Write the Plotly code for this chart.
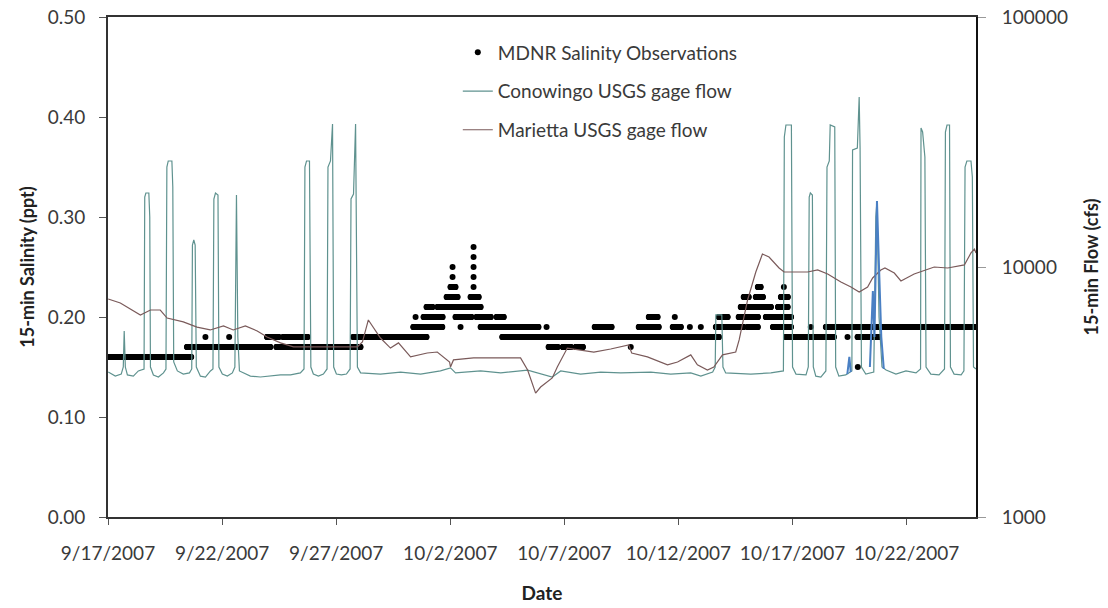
import numpy as np
import pandas as pd
import plotly.graph_objects as go

T0 = pd.Timestamp("2007-09-17 00:00")

# ---- MDNR salinity observations (15-min), stored as runs of constant reading ----
sal_level = [0.16, 0.17, 0.18, 0.18, 0.18, 0.18, 0.18, 0.17, 0.17, 0.18,
             0.19, 0.19, 0.19, 0.19, 0.19, 0.19,
             0.20, 0.20, 0.20, 0.20, 0.20,
             0.21, 0.21, 0.21, 0.22, 0.22, 0.23, 0.23,
             0.24, 0.24, 0.25, 0.25, 0.26, 0.27,
             0.18, 0.18, 0.18, 0.18,
             0.17, 0.17, 0.17, 0.17,
             0.19, 0.19, 0.19, 0.19, 0.19, 0.19, 0.19, 0.19, 0.19, 0.19,
             0.20, 0.20, 0.20, 0.20, 0.20,
             0.21, 0.21, 0.22, 0.22, 0.22, 0.23, 0.23,
             0.18, 0.18, 0.18, 0.15]
sal_start = [0.00, 3.46, 4.27, 5.31, 6.97, 7.68, 8.11, 7.38, 8.40, 10.75,
             13.38, 15.45, 16.33, 17.56, 17.99, 19.22,
             13.48, 13.83, 15.23, 16.15, 17.03,
             13.96, 14.44, 14.84, 14.84, 15.89, 15.01, 16.02,
             15.10, 16.02, 15.10, 16.02, 16.02, 16.02,
             17.28, 19.53, 21.81, 23.92,
             19.31, 19.93, 20.50, 22.91,
             21.33, 23.26, 24.75, 25.50, 25.98, 26.64, 28.04, 29.14, 30.80, 31.46,
             23.70, 24.84, 26.77, 27.64, 28.83,
             27.73, 29.36, 27.86, 28.39, 29.49, 28.48, 29.62,
             29.71, 32.41, 32.85, 32.86]
sal_end = [3.65, 7.12, 4.27, 5.31, 7.48, 8.00, 8.75, 8.29, 11.07, 13.96,
           14.65, 15.45, 17.43, 17.86, 18.87, 19.22,
           13.48, 14.66, 15.93, 16.77, 17.34,
           14.22, 14.71, 16.33, 15.32, 16.24, 15.23, 16.02,
           15.10, 16.02, 15.10, 16.02, 16.02, 16.02,
           19.40, 21.72, 23.79, 26.77,
           19.71, 20.28, 20.81, 22.91,
           22.07, 24.13, 25.10, 25.50, 25.98, 27.86, 28.48, 29.93, 30.80, 38.04,
           24.09, 24.84, 27.16, 28.48, 29.93,
           29.05, 29.79, 28.08, 28.70, 29.79, 28.61, 29.62,
           31.81, 32.41, 33.79, 32.86]

# ---- Conowingo USGS gage flow (cfs) ----
cono_day = [0.01, 0.32, 0.58, 0.67, 0.71, 0.76, 0.85, 1.11, 1.33, 1.58, 1.61, 1.66, 1.79, 1.83, 1.86,
            1.99, 2.21, 2.43, 2.54, 2.58, 2.64, 2.80, 2.84, 2.88, 3.04, 3.30, 3.57, 3.67, 3.70,
            3.76, 3.82, 3.87, 4.05, 4.27, 4.49, 4.60, 4.64, 4.71, 4.82, 4.86, 5.01, 5.23, 5.45,
            5.56, 5.63, 5.69, 5.76, 6.24, 6.68, 7.12, 7.56, 8.00, 8.43, 8.59, 8.63, 8.70, 8.83,
            8.89, 9.00, 9.22, 9.44, 9.60, 9.64, 9.75, 9.84, 9.89, 10.01, 10.23, 10.45, 10.61,
            10.65, 10.76, 10.85, 10.93, 11.07, 11.94, 12.82, 13.70, 14.57, 15.01, 15.23, 16.33,
            17.21, 18.39, 19.47, 19.84, 20.71, 21.59, 22.47, 23.79, 24.66, 25.54, 25.98, 26.50,
            26.61, 26.64, 26.90, 26.95, 27.07, 28.17, 29.05, 29.60, 29.64, 29.71, 29.95, 30.00,
            30.15, 30.59, 30.69, 30.73, 30.78, 30.87, 30.91, 31.02, 31.24, 31.46, 31.51, 31.61,
            31.65, 31.85, 31.89, 32.03, 32.33, 32.60, 32.63, 32.84, 32.92, 32.96, 33.02, 33.21,
            33.56, 33.65, 33.70, 33.79, 33.92, 34.10, 34.53, 34.97, 35.41, 35.61, 35.63, 35.70,
            35.80, 35.85, 36.06, 36.42, 36.66, 36.70, 36.77, 36.88, 36.92, 37.08, 37.39, 37.51,
            37.56, 37.64, 37.82, 37.88, 37.93, 38.04]
cono_flow = [3800, 3660, 3730, 3980, 5550, 3980, 3700, 3660, 3840, 3910, 19060, 19770, 19770, 15850, 3980,
             3700, 3630, 3770, 3910, 25120, 26550, 26550, 20890, 4170, 3840, 3730, 3770, 3910, 12250,
             12820, 12250, 3980, 3660, 3630, 3840, 3910, 18710, 19770, 19410, 3980, 3730, 3660, 3770,
             3980, 19410, 5250, 3840, 3660, 3630, 3660, 3700, 3700, 3770, 3910, 25120, 26550, 26550,
             3980, 3730, 3660, 3730, 3910, 25120, 26550, 37330, 3980, 3730, 3700, 3730, 3910,
             18710, 19590, 37330, 3980, 3770, 3730, 3800, 3730, 3840, 3950, 3770, 3840,
             3770, 3870, 3630, 3840, 3730, 3800, 3770, 3800, 3730, 3770, 3660, 3800,
             3980, 6430, 6430, 3980, 3770, 3730, 3770, 3840, 33110, 36980, 36980, 3980,
             3730, 3700, 3980, 19060, 19770, 19410, 3980, 3660, 3630, 3840, 25120, 26550,
             36980, 36310, 3980, 3660, 3700, 3840, 29380, 29920, 47860, 29920, 3980, 3730,
             3800, 15850, 18370, 6310, 3980, 3870, 3730, 3840, 3770, 3910, 35980, 34670,
             27540, 3980, 3730, 3700, 3910, 34670, 36980, 36980, 3980, 3730, 3700, 3840,
             25120, 26550, 26550, 22910, 3980, 3910]

# ---- Marietta USGS gage flow (cfs) ----
mari_day = [0.01, 0.54, 1.42, 1.86, 2.29, 2.59, 3.30, 3.90, 4.48, 5.06, 5.49, 6.02, 6.54, 6.97,
            7.56, 8.13, 9.75, 10.93, 11.15, 11.41, 11.94, 12.38, 12.73, 13.26, 13.99, 14.43,
            14.97, 15.01, 15.14, 16.02, 18.08, 18.39, 18.74, 18.96, 19.47, 19.69, 20.13, 20.71,
            21.29, 22.03, 22.82, 22.95, 23.64, 24.52, 24.96, 25.54, 25.83, 26.27, 26.55, 26.93,
            27.51, 27.66, 28.03, 28.39, 28.68, 28.97, 29.41, 29.63, 30.66, 31.10, 31.54, 32.12,
            32.56, 32.92, 33.29, 33.51, 33.87, 34.05, 34.46, 34.75, 35.33, 36.21, 36.80, 37.53,
            37.82, 37.97, 38.04]
mari_flow = [7450, 7180, 6430, 6730, 6730, 6250, 6030, 5750, 5600, 5810, 5600, 5810, 5550, 5250,
             4970, 4790, 4790, 4790, 5010, 6140, 5200, 4740, 4970, 4370, 4530, 4570,
             4170, 3980, 4250, 4330, 4330, 3870, 3130, 3310, 3600, 3980, 4740, 4660,
             4570, 4700, 4880, 4530, 4370, 4060, 4170, 4450, 4060, 3870, 3980, 4450,
             4570, 5110, 7380, 9550, 11270, 10960, 9910, 9550, 9550, 9730, 9380, 8710,
             8320, 7940, 8320, 9040, 9730, 9910, 9460, 8790, 9380, 10000, 9910, 10190,
             11380, 11800, 11380]

# ---- provisional Conowingo segment drawn in blue (no legend entry) ----
blue_day = [32.40, 32.49, 32.55, None, 33.39, 33.52, 33.59, 33.70, 33.79, 33.89, 34.00]
blue_flow = [3730, 4370, 3800, None, 3980, 8020, 5250, 18370, 10000, 5250, 3910]


def to_time(days):
    return [None if d is None else T0 + pd.Timedelta(days=d) for d in days]


# expand the constant-reading runs into the 15-minute observation times
sx, sy = [], []
for lv, a, b in zip(sal_level, sal_start, sal_end):
    n = int(round((b - a) * 96)) + 1
    for k in range(n):
        sx.append(a + k / 96.0)
        sy.append(lv)

FONT = "Lato"
TXT = "#3a3a3a"

fig = go.Figure()
fig.add_trace(go.Scatter(
    x=to_time(sx), y=sy, mode="markers", name="MDNR Salinity Observations",
    marker=dict(color="black", size=6), legendgroup="a", yaxis="y"))
fig.add_trace(go.Scatter(
    x=to_time(cono_day), y=cono_flow, mode="lines", name="Conowingo USGS gage flow",
    line=dict(color="#5f928f", width=1.2), legendgroup="b", yaxis="y2"))
fig.add_trace(go.Scatter(
    x=to_time(mari_day), y=mari_flow, mode="lines", name="Marietta USGS gage flow",
    line=dict(color="#7a5a5a", width=1.2), legendgroup="c", yaxis="y2"))
fig.add_trace(go.Scatter(
    x=to_time(blue_day), y=blue_flow, mode="lines", showlegend=False,
    line=dict(color="#4a80c4", width=2), yaxis="y2", connectgaps=False))

fig.update_layout(
    width=1108, height=608,
    margin=dict(l=108, r=132, t=17, b=91),
    paper_bgcolor="white", plot_bgcolor="white",
    font=dict(family=FONT, size=19, color=TXT),
    showlegend=True,
    legend=dict(x=0.403, y=0.967, xanchor="left", yanchor="top",
                bgcolor="rgba(0,0,0,0)", tracegroupgap=11,
                font=dict(family=FONT, size=19, color=TXT)),
    xaxis=dict(
        type="date", automargin=False,
        range=[T0, T0 + pd.Timedelta(days=38.04)],
        tick0=T0, dtick=5 * 86400000, tickformat="%-m/%-d/%Y",
        showgrid=False, zeroline=False,
        showline=True, linecolor="#333333", linewidth=2, mirror=True,
        ticks="outside", ticklen=6, tickcolor="#555555", tickwidth=1,
        ticklabelstandoff=12,
        title=dict(text="<b>Date</b>", font=dict(family=FONT, size=19, color="#222222"), standoff=24),
    ),
    yaxis=dict(
        range=[0, 0.5], dtick=0.1, tickformat=".2f", automargin=False,
        showgrid=False, zeroline=False,
        showline=True, linecolor="#333333", linewidth=2,
        ticks="outside", ticklen=7, tickcolor="#555555",
        ticklabelstandoff=10,
        title=dict(text="<b>15-min Salinity (ppt)</b>", font=dict(family=FONT, size=18, color="#222222"), standoff=8),
    ),
    yaxis2=dict(
        type="log", range=[3, 5], overlaying="y", side="right", automargin=False,
        tickvals=[1000, 10000, 100000], ticktext=["1000", "10000", "100000"],
        showgrid=False, zeroline=False,
        showline=True, linecolor="#111111", linewidth=2,
        ticks="outside", ticklen=8, tickcolor="#999999",
        ticklabelstandoff=12,
        title=dict(text="<b>15-min Flow (cfs)</b>", font=dict(family=FONT, size=18, color="#222222"), standoff=18),
    ),
)

fig.write_html("out.html")
